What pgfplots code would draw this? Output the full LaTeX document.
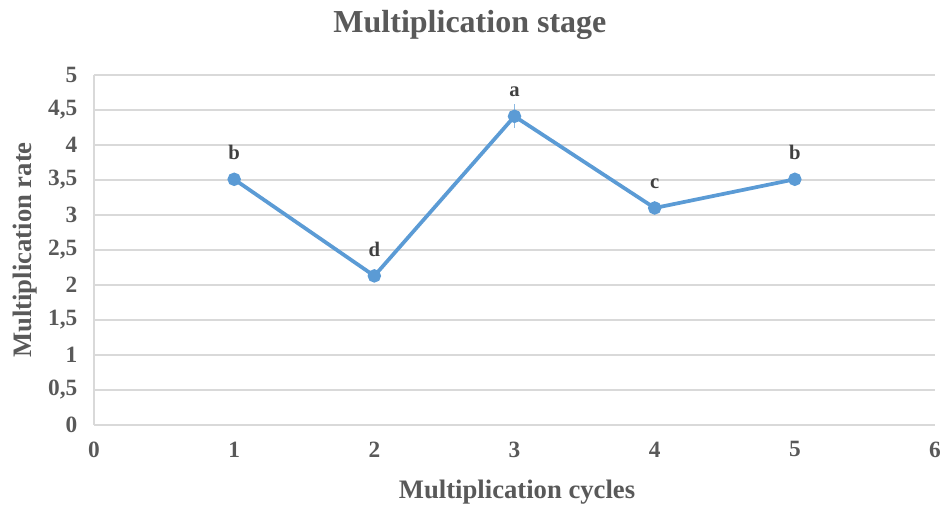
\documentclass[border=0pt]{standalone}
\usepackage{pgfplots}
\pgfplotsset{compat=1.18}
\usepackage{fontspec}
\setmainfont{Liberation Serif}
\definecolor{lineblue}{HTML}{5B9BD5}
\definecolor{txtgray}{HTML}{595959}
\definecolor{lblgray}{HTML}{404040}
\definecolor{gridgray}{HTML}{D9D9D9}
\begin{document}
\begin{tikzpicture}
\begin{axis}[
  scale only axis,
  width=630.75pt, height=262.5pt,
  xmin=0, xmax=6, ymin=0, ymax=5,
  xtick={0,1,...,6},
  ytick={0,0.5,...,5},
  /pgf/number format/assume math mode=true,
  /pgf/number format/use comma,
  ymajorgrids, grid style={gridgray, line width=0.8pt},
  axis line style={gridgray, line width=0.8pt},
  axis x line*=bottom,
  axis y line*=left,
  major tick length=0pt,
  ticklabel style={font=\fontsize{17.5}{19}\selectfont\bfseries, text=txtgray},
  xticklabel style={yshift=-9pt},
  yticklabel style={xshift=-9pt},
  xlabel={Multiplication cycles},
  ylabel={Multiplication rate},
  label style={font=\fontsize{20}{22}\selectfont\bfseries, text=txtgray},
  xlabel style={at={(axis description cs:0.503,-0.1914)}, anchor=center},
  ylabel style={at={(axis description cs:-0.082,0.5)}, anchor=center},
  every axis title shift=0pt,
  title={Multiplication stage},
  title style={font=\fontsize{24}{26}\selectfont\bfseries, text=txtgray, inner sep=0pt, at={(axis description cs:0.447,1.143)}, anchor=center},
  clip=false,
]
\addplot[color=lineblue, line width=2.8pt, mark=*, mark size=3.6pt,
  mark options={fill=lineblue, draw=lineblue},
  error bars/.cd, y dir=both, y explicit,
  error bar style={color=lineblue!70, line width=0.6pt}, error mark=none]
  table[x=x, y=y, y error=e] {
x y e
1 3.51 0.05
2 2.13 0.05
3 4.41 0.17
4 3.10 0.05
5 3.51 0.05
};
\addplot[draw=none, mark=none,
  nodes near coords, point meta=explicit symbolic,
  every node near coord/.style={font=\fontsize{15.5}{17}\selectfont\bfseries, text=lblgray, anchor=south, yshift=11pt}]
  table[x=x, y=y, meta=l] {
x y l
1 3.51 b
2 2.13 d
3 4.41 a
4 3.10 c
5 3.51 b
};
\end{axis}
\pgfresetboundingbox
\path ([xshift=-70.5pt,yshift=-62.25pt]current axis.south west) rectangle ([xshift=5.25pt,yshift=56.25pt]current axis.north east);
\end{tikzpicture}
\end{document}
